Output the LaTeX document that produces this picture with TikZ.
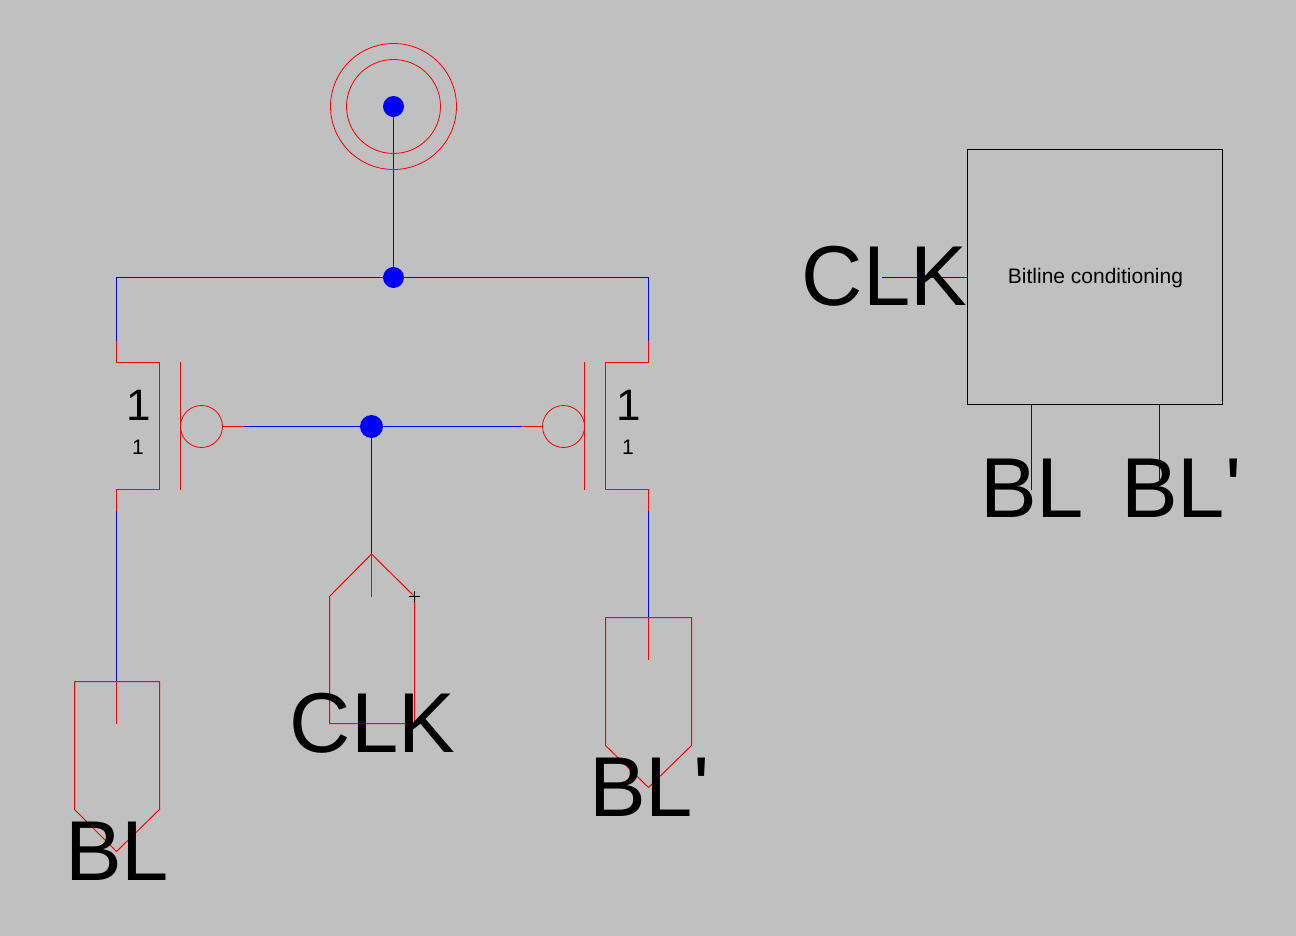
\documentclass[tikz,border=0pt]{standalone}
\usepackage{fontspec}
\setmainfont{Liberation Sans}
\newfontface\plainface{Liberation Sans}
\definecolor{bgc}{RGB}{192,192,192}
\tikzset{
  redw/.style={draw=red,line width=1pt},
  bluew/.style={draw=blue,line width=1pt},
  dot/.style={circle,fill=blue,draw=none,inner sep=0pt,minimum size=#1},
  big/.style={inner sep=0pt,anchor=base west,font=\plainface\fontsize{85}{85}\selectfont},
  midnum/.style={inner sep=0pt,anchor=base,font=\fontsize{44}{44}\selectfont},
  smallnum/.style={inner sep=0pt,anchor=base,font=\fontsize{21}{21}\selectfont},
  ring/.style={circle,draw=red,line width=0.8pt,inner sep=0pt,minimum size=#1},
}
\begin{document}
\begin{tikzpicture}[x=1pt,y=-1pt]
\useasboundingbox[fill=bgc] (0,0) rectangle (1296,936);
% junctions
\coordinate (vcc) at (393.5,106.5);
\coordinate (rail) at (393.5,277.5);
\coordinate (gate) at (371.5,426.5);
\coordinate (lt) at (116.5,341);
\coordinate (ls) at (116.5,511);
\coordinate (rt) at (648.5,341);
\coordinate (rs) at (648.5,511);
\coordinate (lg) at (244,426.5);
\coordinate (rg) at (521,426.5);
\coordinate (pclk) at (371.5,554);
\coordinate (pbl) at (116.5,681.5);
\coordinate (pblb) at (648.5,617.5);
% supply
\node[ring=126pt] (o1) at (vcc) {};
\node[ring=94pt] (o2) at (vcc) {};
\draw[bluew] (vcc) -- (rail);
\draw[bluew] (lt) -- (116.5,277.5) -- (648.5,277.5) -- (rt);
% left transistor
\draw[redw] (lt) -- (116.5,362.5) -- (159.5,362.5) -- (159.5,489.5) -- (116.5,489.5) -- (ls);
\draw[redw] (180.5,362) -- (180.5,490);
\node[ring=42pt] (lb) at (201.5,426.5) {};
\draw[redw] (lb.east) -- (lg);
\draw[bluew] (lg) -- (gate);
% right transistor
\draw[redw] (rt) -- (648.5,362.5) -- (605.5,362.5) -- (605.5,489.5) -- (648.5,489.5) -- (rs);
\draw[redw] (584.5,362) -- (584.5,490);
\node[ring=42pt] (rb) at (563.5,426.5) {};
\draw[redw] (rb.west) -- (rg);
\draw[bluew] (rg) -- (gate);
% wires to pins
\draw[bluew] (gate) -- (pclk);
\draw[bluew] (ls) -- (pbl);
\draw[bluew] (rs) -- (pblb);
% pins
\draw[redw] (pclk) -- (414.5,596.5) -- (414.5,723.5) -- (329.5,723.5) -- (329.5,596.5) -- cycle;
\draw[redw] (pclk) -- (371.5,597);
\draw[black,line width=0.8pt] (409,596.5) -- (420,596.5) (414.5,591) -- (414.5,602);
\draw[redw] (74.5,681.5) -- (159.5,681.5) -- (159.5,809.5) -- (116.5,851.5) -- (74.5,809.5) -- cycle;
\draw[redw] (pbl) -- (116.5,724);
\draw[redw] (605.5,617.5) -- (691.5,617.5) -- (691.5,745.5) -- (648.5,787.5) -- (605.5,745.5) -- cycle;
\draw[redw] (pblb) -- (648.5,660);
% dots
\node[dot=21pt] (d1) at (vcc) {};
\node[dot=21pt] (d2) at (rail) {};
\node[dot=23pt] (d3) at (gate) {};
% labels
\node[midnum] (w1) at (138.5,420) {1};
\node[smallnum] (l1) at (138,454.5) {1};
\node[midnum] (w2) at (628.5,420) {1};
\node[smallnum] (l2) at (628,454.5) {1};
\node[big] (tclk) at (289.5,752) {CLK};
\node[big] (tbl) at (65,880.5) {BL};
\node[big] (tblb) at (589,816.5) {BL'};
% block
\node[draw=black,line width=0.8pt,minimum size=255pt,inner sep=0pt] (blk) at (1095,277) {};
\node[inner sep=0pt,anchor=base,font=\fontsize{21}{21}\selectfont] (blt) at (1095.5,283.5) {Bitline conditioning};
\coordinate (cl) at (882,277.5);
\coordinate (bl1) at (1031.5,490);
\coordinate (bl2) at (1159.5,480);
\draw[bluew] (cl) -- (967.5,277.5);
\draw[bluew] (bl1) -- (1031.5,404.5);
\draw[bluew] (bl2) -- (1159.5,404.5);
\node[big] (cclk) at (801.5,305) {CLK};
\node[big] (cbl) at (980,517.5) {BL};
\node[big] (cblb) at (1121,517.5) {BL'};
\end{tikzpicture}
\end{document}
